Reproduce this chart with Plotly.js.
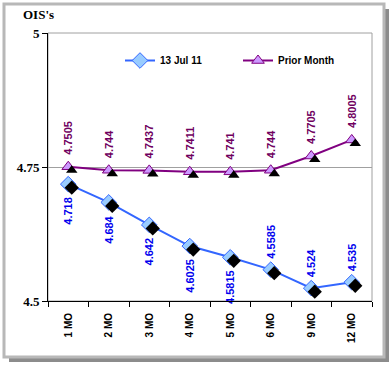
<!DOCTYPE html>
<html><head><meta charset="utf-8">
<script src="https://cdn.plot.ly/plotly-3.0.1.min.js"></script>
<style>html,body{margin:0;padding:0;background:#fff}#chart{width:392px;height:370px}</style>
</head><body><div id="chart"></div>
<script>
const categories = ['1 MO','2 MO','3 MO','4 MO','5 MO','6 MO','9 MO','12 MO'];
const seriesNames = ['13 Jul 11','Prior Month'];
const julValues = [4.718, 4.684, 4.642, 4.6025, 4.5815, 4.5585, 4.524, 4.535];
const priorValues = [4.7505, 4.744, 4.7437, 4.7411, 4.741, 4.744, 4.7705, 4.8005];
const julLabels = ['4.718','4.684','4.642','4.6025','4.5815','4.5585','4.524','4.535'];
const priorLabels = ['4.7505','4.744','4.7437','4.7411','4.741','4.744','4.7705','4.8005'];
const yTicks = [4.5, 4.75, 5];

// style: which blue labels sit above their point (as in the source chart)
const julLabelAbove = [false, false, false, false, false, true, true, true];

const W = 392, H = 370, ML = 48, MR = 20, MT = 33, MB = 69;
const PW = W - ML - MR, PH = H - MT - MB;
const px = x => (x - ML) / PW;
const py = y => (H - MB - y) / PH;
const yMin = 4.5, yMax = 5;
const unitPerPx = (yMax - yMin) / PH;
const sdx = 3.5 / (PW / categories.length);
const sdy = 3.5 * unitPerPx;
const gapUp = categories.map(() => 9 * unitPerPx);
const gapJul = julLabelAbove.map(a => (a ? 8 : -10) * unitPerPx);

const blue = '#3366ff', purple = '#800080';
const labelFont = 'Liberation Sans, Arial, sans-serif';
const traces = [
  {type: 'bar', x: categories, base: priorValues, y: gapUp, text: priorLabels, textposition: 'outside',
   textangle: -90, constraintext: 'none', cliponaxis: false, showlegend: false, hoverinfo: 'skip',
   marker: {color: 'rgba(0,0,0,0)'}, textfont: {family: labelFont, size: 11, color: '#700060', weight: 'bold'}},
  {type: 'bar', x: categories, base: julValues, y: gapJul, text: julLabels, textposition: 'outside',
   textangle: -90, constraintext: 'none', cliponaxis: false, showlegend: false, hoverinfo: 'skip',
   marker: {color: 'rgba(0,0,0,0)'}, textfont: {family: labelFont, size: 11, color: '#0000ee', weight: 'bold'}},
  {x: categories, y: julValues, xaxis: 'x2', yaxis: 'y2', mode: 'markers', showlegend: false, hoverinfo: 'skip',
   marker: {symbol: 'diamond', size: 11, color: '#000'}},
  {x: categories, y: priorValues, xaxis: 'x2', yaxis: 'y2', mode: 'markers', showlegend: false, hoverinfo: 'skip',
   marker: {symbol: 'triangle-up', size: 10, color: '#000'}},
  {x: categories, y: julValues, name: seriesNames[0], mode: 'lines+markers',
   line: {color: blue, width: 2}, marker: {symbol: 'diamond', size: 12, color: '#99ccff', line: {color: blue, width: 1}}},
  {x: categories, y: priorValues, name: seriesNames[1], mode: 'lines+markers',
   line: {color: purple, width: 2}, marker: {symbol: 'triangle-up', size: 11, color: '#cc99ff', line: {color: purple, width: 1}}}
];

const annotations = [{xref: 'paper', yref: 'paper', x: px(21), y: py(14), xanchor: 'left', yanchor: 'middle',
  text: "OIS's", showarrow: false, font: {family: 'Liberation Serif, Times New Roman, serif', size: 13, color: '#000', weight: 'bold'}}];

const shapes = [
  {type: 'rect', xref: 'paper', yref: 'paper', layer: 'below', x0: px(9), x1: px(389), y0: py(9), y1: py(362),
   fillcolor: '#8c8c8c', line: {width: 0}},
  {type: 'rect', xref: 'paper', yref: 'paper', layer: 'below', x0: px(4), x1: px(384), y0: py(4), y1: py(357),
   fillcolor: '#ffffff', line: {color: '#b8b8b8', width: 3}},
  {type: 'rect', xref: 'paper', yref: 'paper', layer: 'below', x0: 0, x1: 1, y0: 0, y1: 1,
   line: {color: '#a0a0a0', width: 1}}
];

const layout = {
  width: W, height: H,
  margin: {l: ML, r: MR, t: MT, b: MB},
  paper_bgcolor: '#fff', plot_bgcolor: 'rgba(0,0,0,0)',
  showlegend: true, barmode: 'overlay',
  legend: {orientation: 'h', x: px(120), y: py(46), xanchor: 'left', yanchor: 'top', entrywidth: 73,
    bgcolor: 'rgba(0,0,0,0)', font: {family: labelFont, size: 10, color: '#000', weight: 'bold'}},
  xaxis: {type: 'category', range: [-0.5, categories.length - 0.5], showline: true, linecolor: '#000', linewidth: 1,
    ticks: 'outside', ticklen: 5, tickcolor: '#000', tickson: 'boundaries', tickangle: -90, showgrid: false,
    ticklabelstandoff: 7,
    tickfont: {family: labelFont, size: 10, color: '#000', weight: 'bold'}, fixedrange: true},
  yaxis: {range: [yMin, yMax], tickvals: yTicks, ticktext: ['4.5','4.75','5'], showline: true, linecolor: '#000', linewidth: 1,
    ticks: 'outside', ticklen: 5, tickcolor: '#000', showgrid: true, gridcolor: '#a0a0a0', zeroline: false,
    tickfont: {family: 'Liberation Serif, Times New Roman, serif', size: 13, color: '#000', weight: 'bold'}, fixedrange: true},
  xaxis2: {type: 'category', overlaying: 'x', range: [-0.5 - sdx, categories.length - 0.5 - sdx], visible: false, fixedrange: true},
  yaxis2: {overlaying: 'y', range: [yMin + sdy, yMax + sdy], visible: false, fixedrange: true},
  annotations: annotations,
  shapes: shapes
};
Plotly.newPlot('chart', traces, layout, {displayModeBar: false});
</script></body></html>
